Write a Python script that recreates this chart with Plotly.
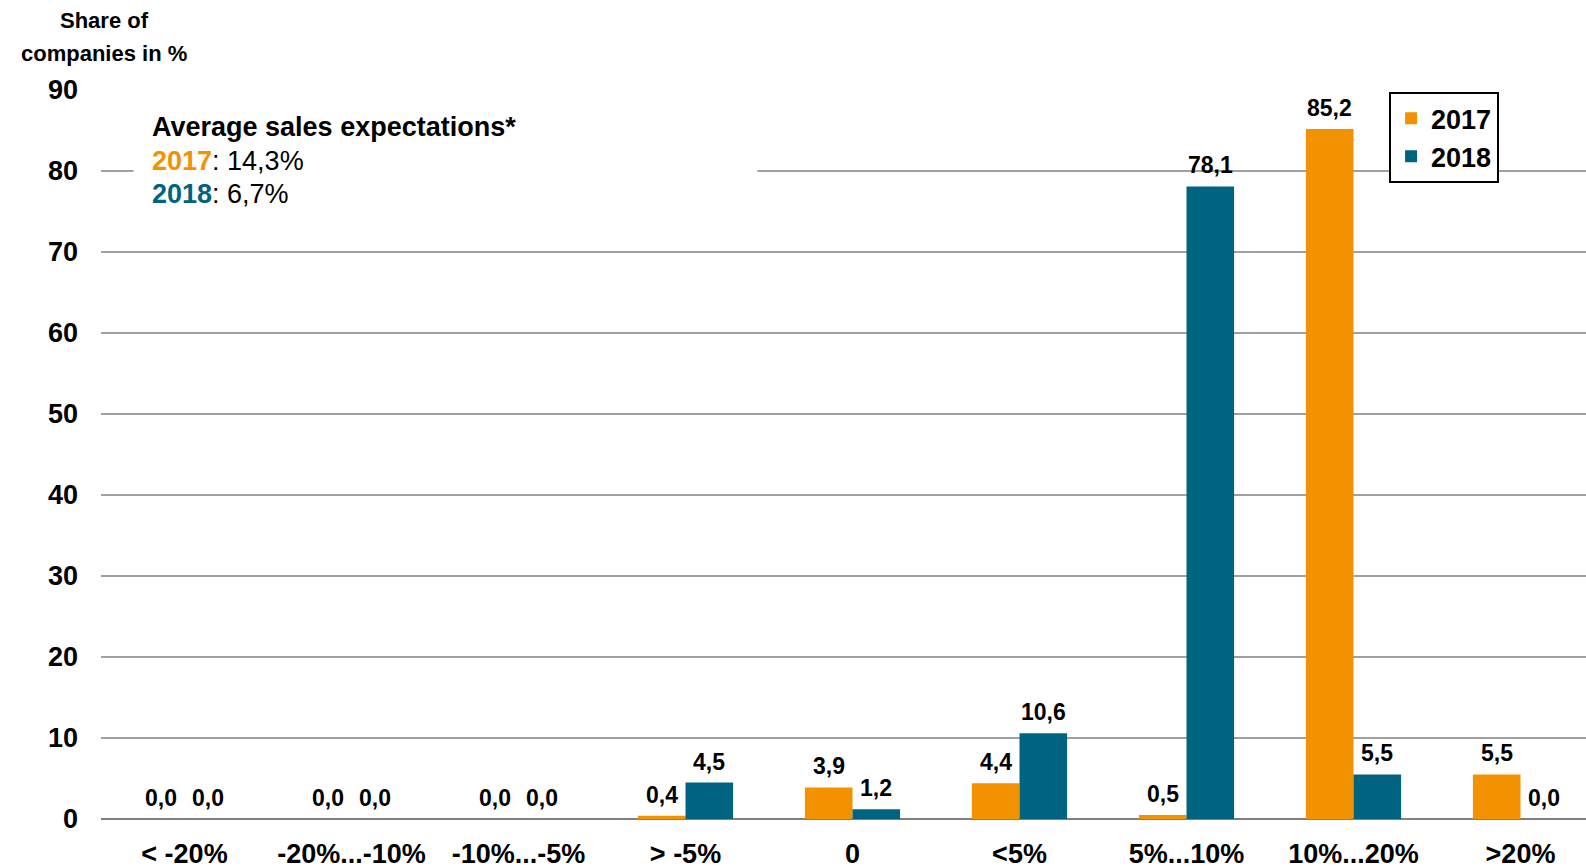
import plotly.graph_objects as go

categories = ["< -20%", "-20%...-10%", "-10%...-5%", "> -5%", "0", "<5%",
              "5%...10%", "10%...20%", ">20%"]
values_2017 = [0.0, 0.0, 0.0, 0.4, 3.9, 4.4, 0.5, 85.2, 5.5]
values_2018 = [0.0, 0.0, 0.0, 4.5, 1.2, 10.6, 78.1, 5.5, 0.0]
series_names = ["2017", "2018"]
avg_expectations = ["14,3%", "6,7%"]
y_ticks = [0, 10, 20, 30, 40, 50, 60, 70, 80, 90]

ORANGE = "#F39200"
BLUE = "#006480"
FONT = "Liberation Sans, Arial, sans-serif"

FIG_W, FIG_H = 1606, 879
MARGIN = dict(l=101, r=2, t=90, b=60)
BARGAP = 0.43


def fmt(v):
    return f"{v:.1f}".replace(".", ",")


fig = go.Figure()
for name, vals, col in [(series_names[0], values_2017, ORANGE),
                        (series_names[1], values_2018, BLUE)]:
    fig.add_trace(go.Bar(
        x=categories, y=vals, name=name, legendgroup=name,
        marker=dict(color=col, line=dict(width=0)),
    ))

fig.update_layout(
    width=FIG_W, height=FIG_H, autosize=False,
    margin=dict(**MARGIN, autoexpand=False),
    paper_bgcolor="white", plot_bgcolor="white",
    barmode="group", bargap=BARGAP, bargroupgap=0,
    font=dict(family=FONT, color="black"),
    showlegend=True,
    legend=dict(
        x=0.857, y=0.997, xanchor="left", yanchor="top",
        bordercolor="black", borderwidth=2, bgcolor="white",
        font=dict(family=FONT, size=27, color="black", weight="bold"),
        traceorder="grouped", tracegroupgap=0,
    ),
    xaxis=dict(
        type="category", showgrid=False, showline=False, zeroline=False,
        automargin=False, ticks="", ticklabelstandoff=16,
        tickfont=dict(family=FONT, size=27, color="black", weight="bold"),
    ),
    yaxis=dict(
        range=[0, 90], tickvals=y_ticks, showgrid=True,
        gridcolor="#A0A0A0", gridwidth=1.5, automargin=False,
        zeroline=True, zerolinecolor="#808080", zerolinewidth=2,
        showline=False, ticks="", ticklabelstandoff=22,
        tickfont=dict(family=FONT, size=27, color="black", weight="bold"),
    ),
)

# value labels above each bar (bar centres derived from the category band)
plot_w = FIG_W - MARGIN["l"] - MARGIN["r"]
band = plot_w / len(categories)
half_offset = band * (1 - BARGAP) / 4
for sign, vals in [(-1, values_2017), (1, values_2018)]:
    for idx, v in enumerate(vals):
        fig.add_annotation(
            x=idx, y=v, xref="x", yref="y", xshift=sign * half_offset,
            yshift=6, xanchor="center", yanchor="bottom", showarrow=False,
            text=f"<b>{fmt(v)}</b>",
            font=dict(family=FONT, size=23, color="black"),
        )

# white box behind the average expectations text
fig.add_shape(type="rect", xref="paper", yref="paper",
              x0=0.0216, x1=0.4367, y0=0.832, y1=0.978,
              fillcolor="white", line=dict(width=0), layer="above")

fig.add_annotation(xref="paper", yref="paper", x=0.0323, y=0.9486,
                   xanchor="left", yanchor="middle", showarrow=False,
                   text="<b>Average sales expectations*</b>",
                   font=dict(family=FONT, size=27, color="black"))
fig.add_annotation(xref="paper", yref="paper", x=0.0323, y=0.9028,
                   xanchor="left", yanchor="middle", showarrow=False,
                   text=f"<b><span style='color:{ORANGE}'>{series_names[0]}</span></b>: {avg_expectations[0]}",
                   font=dict(family=FONT, size=27, color="black"))
fig.add_annotation(xref="paper", yref="paper", x=0.0323, y=0.8569,
                   xanchor="left", yanchor="middle", showarrow=False,
                   text=f"<b><span style='color:{BLUE}'>{series_names[1]}</span></b>: {avg_expectations[1]}",
                   font=dict(family=FONT, size=27, color="black"))

fig.add_annotation(xref="paper", yref="paper", x=0.002, y=1.0958,
                   xanchor="center", yanchor="middle", showarrow=False,
                   text="<b>Share of</b>",
                   font=dict(family=FONT, size=22, color="black"))
fig.add_annotation(xref="paper", yref="paper", x=0.002, y=1.0500,
                   xanchor="center", yanchor="middle", showarrow=False,
                   text="<b>companies in %</b>",
                   font=dict(family=FONT, size=22, color="black"))

fig.write_html(
    "out.html",
    config={"responsive": False, "displayModeBar": False},
    post_script="document.body.style.margin='0';document.body.style.overflow='hidden';",
)
